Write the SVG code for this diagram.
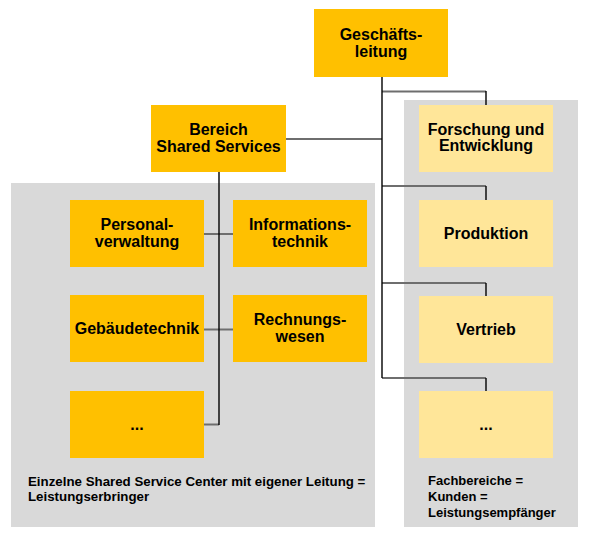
<svg xmlns="http://www.w3.org/2000/svg" width="596" height="542" viewBox="0 0 596 542">
<style>
.dark{fill:#FFC000}
.light{fill:#FFE699}
.panel{fill:#D9D9D9}
text{font-family:"Liberation Sans",Arial,sans-serif;font-weight:bold;fill:#000;text-anchor:middle}
.t{font-size:16px}
.s{font-size:13px;text-anchor:start}
.s2{font-size:13.3px}
.h{stroke:#6e6e6e;stroke-width:2;fill:none}
.v{stroke:#000;stroke-width:1.4;fill:none}
</style>
<rect class="panel" x="11" y="183" width="364" height="344"/>
<rect class="panel" x="404" y="100" width="174" height="427"/>
<g id="connectors">
<line class="h" x1="382" y1="91.5" x2="486" y2="91.5"/>
<line class="v" x1="486" y1="91" x2="486" y2="105"/>
<line class="h" x1="382" y1="186" x2="486" y2="186"/>
<line class="v" x1="486" y1="186" x2="486" y2="200"/>
<line class="h" x1="382" y1="283" x2="486" y2="283"/>
<line class="v" x1="486" y1="283" x2="486" y2="296"/>
<line class="h" x1="382" y1="378" x2="486" y2="378"/>
<line class="v" x1="486" y1="378" x2="486" y2="391"/>
<line class="h" x1="286" y1="139" x2="382" y2="139"/>
<line class="v" x1="382" y1="77" x2="382" y2="378"/>
<line class="h" x1="204" y1="234" x2="233" y2="234"/>
<line class="h" x1="204" y1="329.5" x2="233" y2="329.5"/>
<line class="h" x1="204" y1="424.5" x2="219" y2="424.5"/>
<line class="v" x1="219" y1="172" x2="219" y2="425"/>
</g>
<g id="geschaeftsleitung"><rect class="dark" x="314" y="9" width="134" height="68"/><text class="t" x="381" y="40">Geschäfts-</text><text class="t" x="381" y="57">leitung</text></g>
<g id="bereich"><rect class="dark" x="151" y="105" width="135" height="67"/><text class="t" x="218.5" y="135">Bereich</text><text class="t" x="218.5" y="151.5">Shared Services</text></g>
<g id="personal"><rect class="dark" x="70" y="200" width="134" height="67"/><text class="t" x="137" y="230">Personal-</text><text class="t" x="137" y="246.5">verwaltung</text></g>
<g id="informationstechnik"><rect class="dark" x="233" y="200" width="134" height="67"/><text class="t" x="300" y="230">Informations-</text><text class="t" x="300" y="246.5">technik</text></g>
<g id="gebaeudetechnik"><rect class="dark" x="70" y="295" width="134" height="67"/><text class="t" x="137" y="334">Gebäudetechnik</text></g>
<g id="rechnungswesen"><rect class="dark" x="233" y="295" width="134" height="67"/><text class="t" x="300" y="325">Rechnungs-</text><text class="t" x="300" y="341.5">wesen</text></g>
<g id="ssc-more"><rect class="dark" x="70" y="391" width="134" height="67"/><text class="t" x="137" y="430">...</text></g>
<g id="forschung"><rect class="light" x="419" y="105" width="134" height="67"/><text class="t" x="486" y="134.5">Forschung und</text><text class="t" x="486" y="151">Entwicklung</text></g>
<g id="produktion"><rect class="light" x="419" y="200" width="134" height="67"/><text class="t" x="486" y="239">Produktion</text></g>
<g id="vertrieb"><rect class="light" x="419" y="296" width="134" height="67"/><text class="t" x="486" y="335">Vertrieb</text></g>
<g id="fach-more"><rect class="light" x="419" y="391" width="134" height="67"/><text class="t" x="486" y="430">...</text></g>
<text class="s s2" x="28" y="485.5">Einzelne Shared Service Center mit eigener Leitung =</text>
<text class="s s2" x="28" y="501">Leistungserbringer</text>
<text class="s" x="428" y="485">Fachbereiche =</text>
<text class="s" x="428" y="501">Kunden =</text>
<text class="s" x="428" y="517">Leistungsempfänger</text>
</svg>
